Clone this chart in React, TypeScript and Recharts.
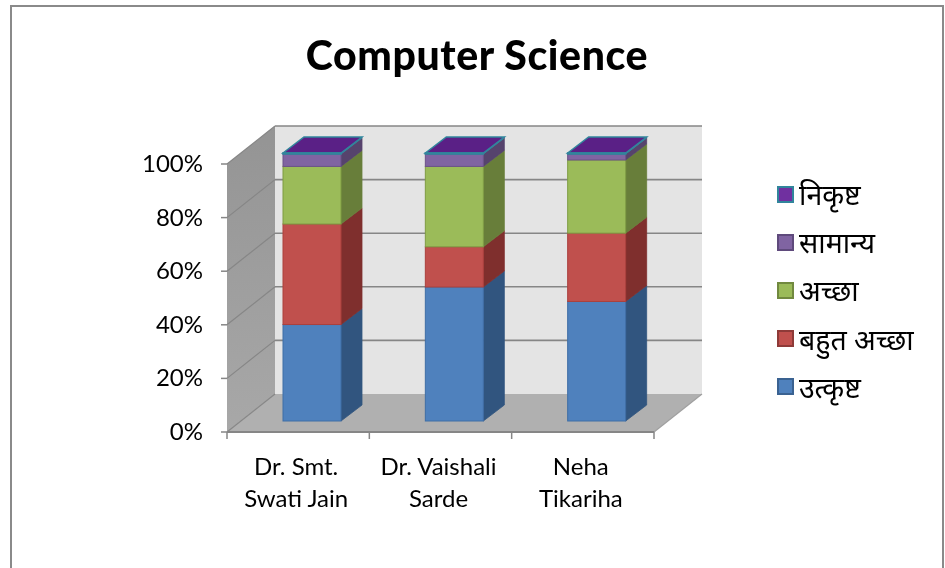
import { BarChart, Bar, XAxis, YAxis, Legend, ReferenceArea } from "recharts";

const teachers = ["Dr. Smt.|Swati Jain", "Dr. Vaishali|Sarde", "Neha|Tikariha"];
const utkrisht = [36, 50, 44.6];
const bahutAccha = [37.5, 15, 25.5];
const accha = [21.5, 30, 27.3];
const samanya = [4.6, 4.6, 2.2];
const nikrisht = [0.4, 0.4, 0.4];
const yTicks = [0, 20, 40, 60, 80, 100];

const data = teachers.map((name, i) => ({
  name,
  utkrisht: utkrisht[i],
  bahutAccha: bahutAccha[i],
  accha: accha[i],
  samanya: samanya[i],
  nikrisht: nikrisht[i],
}));

const FONT = "Lato, 'Noto Sans', sans-serif";
const DEPTH_X = 48;
const DEPTH_Y = 38;
const BAR_DX = 14;
const BAR_DY = -11;
const BAR_DEPTH_X = 21;
const BAR_DEPTH_Y = 16;
const LINE = "#868686";

const pts = (list: number[][]) => list.map((p) => p.join(",")).join(" ");

function Walls({ x, y, width, height }: any) {
  const bottom = y + height;
  const right = x + width;
  const lineY = (t: number) => bottom - (t / 100) * height;
  return (
    <g>
      <polygon
        points={pts([[x + DEPTH_X, y - DEPTH_Y], [right + DEPTH_X, y - DEPTH_Y], [right + DEPTH_X, bottom - DEPTH_Y], [x + DEPTH_X, bottom - DEPTH_Y]])}
        fill="#e4e4e4"
      />
      <polygon
        points={pts([[x, y], [x + DEPTH_X, y - DEPTH_Y], [x + DEPTH_X, bottom - DEPTH_Y], [x, bottom]])}
        fill="url(#sideWall)"
      />
      <polygon
        points={pts([[x, bottom], [x + DEPTH_X, bottom - DEPTH_Y], [right + DEPTH_X, bottom - DEPTH_Y], [right, bottom]])}
        fill="#b0b0b0"
      />
      {yTicks.map((t) => (
        <g key={t}>
          <line x1={x} y1={lineY(t)} x2={x + DEPTH_X} y2={lineY(t) - DEPTH_Y} stroke={LINE} strokeWidth={1.2} />
          {t > 0 && (
            <line x1={x + DEPTH_X} y1={lineY(t) - DEPTH_Y} x2={right + DEPTH_X} y2={lineY(t) - DEPTH_Y} stroke={LINE} strokeWidth={1.6} />
          )}
        </g>
      ))}
      <line x1={right} y1={bottom} x2={right + DEPTH_X} y2={bottom - DEPTH_Y} stroke="#a0a0a0" strokeWidth={1.2} />
      {teachers.map((_, i) => {
        const tx = x + (width * (i + 1)) / teachers.length;
        return <line key={i} x1={tx} y1={bottom} x2={tx} y2={bottom + 7} stroke={LINE} strokeWidth={1.5} />;
      })}
      <line x1={x} y1={bottom} x2={x} y2={bottom + 7} stroke={LINE} strokeWidth={1.5} />
    </g>
  );
}

function makeBarShape(front: string, edge: string, side: string, top?: string) {
  return function BarShape({ x, y, width, height }: any) {
    const fx = x + BAR_DX;
    const fy = y + BAR_DY;
    const r = fx + width;
    const b = fy + height;
    return (
      <g>
        <polygon
          points={pts([[r, fy], [r + BAR_DEPTH_X, fy - BAR_DEPTH_Y], [r + BAR_DEPTH_X, b - BAR_DEPTH_Y], [r, b]])}
          fill={side}
          stroke={side}
          strokeWidth={0.8}
        />
        {top && (
          <polygon
            points={pts([[fx, fy], [fx + BAR_DEPTH_X, fy - BAR_DEPTH_Y], [r + BAR_DEPTH_X, fy - BAR_DEPTH_Y], [r, fy]])}
            fill={top}
            stroke={edge}
            strokeWidth={1.5}
          />
        )}
        <rect x={fx} y={fy} width={width} height={height} fill={front} stroke={edge} strokeWidth={top ? 1.5 : 1} />
      </g>
    );
  };
}

function YTick({ x, y, payload }: any) {
  return (
    <g>
      <line x1={x - 6} y1={y} x2={x} y2={y} stroke={LINE} strokeWidth={1.5} />
      <text x={x - 24} y={y + 8} textAnchor="end" fontSize={24} fontFamily={FONT} fill="#000">
        {payload.value}%
      </text>
    </g>
  );
}

function XTick({ x, y, payload }: any) {
  const lines = String(payload.value).split("|");
  return (
    <text textAnchor="middle" fontSize={24} fontFamily={FONT} fill="#000">
      {lines.map((l, i) => (
        <tspan key={i} x={x - 2} y={y + 35 + i * 32}>
          {l}
        </tspan>
      ))}
    </text>
  );
}

const legendEdges: Record<string, string> = {
  "निकृष्ट": "#31859c",
  "सामान्य": "#5f4a7c",
  "अच्छा": "#71893f",
  "बहुत अच्छा": "#8e3a38",
  "उत्कृष्ट": "#3a6291",
};

function LegendList({ payload }: any) {
  const items = [...(payload || [])].reverse();
  return (
    <div style={{ fontFamily: "'Noto Sans', Lato, sans-serif", fontSize: 28.5, color: "#000" }}>
      {items.map((it: any) => (
        <div key={it.value} style={{ display: "flex", alignItems: "center", height: 48.2 }}>
          <span
            style={{
              width: 13,
              height: 13,
              background: it.color,
              border: `2px solid ${legendEdges[it.value]}`,
              marginRight: 5,
              flex: "none",
            }}
          />
          <span style={{ whiteSpace: "nowrap" }}>{it.value}</span>
        </div>
      ))}
    </div>
  );
}

export default function App() {
  return (
    <div style={{ position: "absolute", left: 0, top: 0, width: 945, height: 568, overflow: "hidden", background: "#fff", filter: "blur(0.4px)" }}>
      <div
        style={{
          position: "absolute",
          left: 10,
          top: 5,
          width: 930,
          height: 600,
          border: "2px solid #8a8a8a",
        }}
      />
      <div
        style={{
          position: "absolute",
          left: 0,
          width: 954,
          top: 30,
          textAlign: "center",
          fontFamily: FONT,
          fontWeight: 900,
          fontSize: 41,
          letterSpacing: 0.6,
          lineHeight: "50px",
          color: "#000",
        }}
      >
        Computer Science
      </div>
      <div style={{ position: "absolute", left: 0, top: 0 }}>
        <BarChart
          width={945}
          height={568}
          data={data}
          margin={{ top: 164, right: 291, bottom: 56, left: 167 }}
          barSize={58}
        >
          <defs>
            <linearGradient id="sideWall" x1="0" y1="0" x2="0" y2="1">
              <stop offset="0%" stopColor="#949494" />
              <stop offset="100%" stopColor="#a8a8a8" />
            </linearGradient>
          </defs>
          <ReferenceArea y1={0} y2={100} ifOverflow="visible" shape={<Walls />} />
          <XAxis
            dataKey="name"
            height={80}
            interval={0}
            tick={<XTick />}
            tickLine={false}
            axisLine={{ stroke: LINE, strokeWidth: 2 }}
          />
          <YAxis
            width={60}
            domain={[0, 100]}
            ticks={yTicks}
            tick={<YTick />}
            tickLine={false}
            axisLine={false}
            tickSize={0}
            tickMargin={0}
          />
          <Legend
            layout="horizontal"
            align="center"
            verticalAlign="middle"
            itemSorter={null}
            content={<LegendList />}
            wrapperStyle={{ left: 777, top: 170, width: 168, height: 241 }}
          />
          <Bar dataKey="utkrisht" name="उत्कृष्ट" stackId="a" fill="#4f81bd" isAnimationActive={false} shape={makeBarShape("#4f81bd", "#3f6ea6", "#31557f")} />
          <Bar dataKey="bahutAccha" name="बहुत अच्छा" stackId="a" fill="#c0504d" isAnimationActive={false} shape={makeBarShape("#c0504d", "#ab403d", "#7f2f2d")} />
          <Bar dataKey="accha" name="अच्छा" stackId="a" fill="#9bbb59" isAnimationActive={false} shape={makeBarShape("#9bbb59", "#7f9c43", "#687e3a")} />
          <Bar dataKey="samanya" name="सामान्य" stackId="a" fill="#8064a2" isAnimationActive={false} shape={makeBarShape("#8064a2", "#6b5289", "#56436d")} />
          <Bar dataKey="nikrisht" name="निकृष्ट" stackId="a" fill="#7030a0" isAnimationActive={false} shape={makeBarShape("#5a2086", "#31859c", "#31859c", "#5a2086")} />
        </BarChart>
      </div>
    </div>
  );
}
